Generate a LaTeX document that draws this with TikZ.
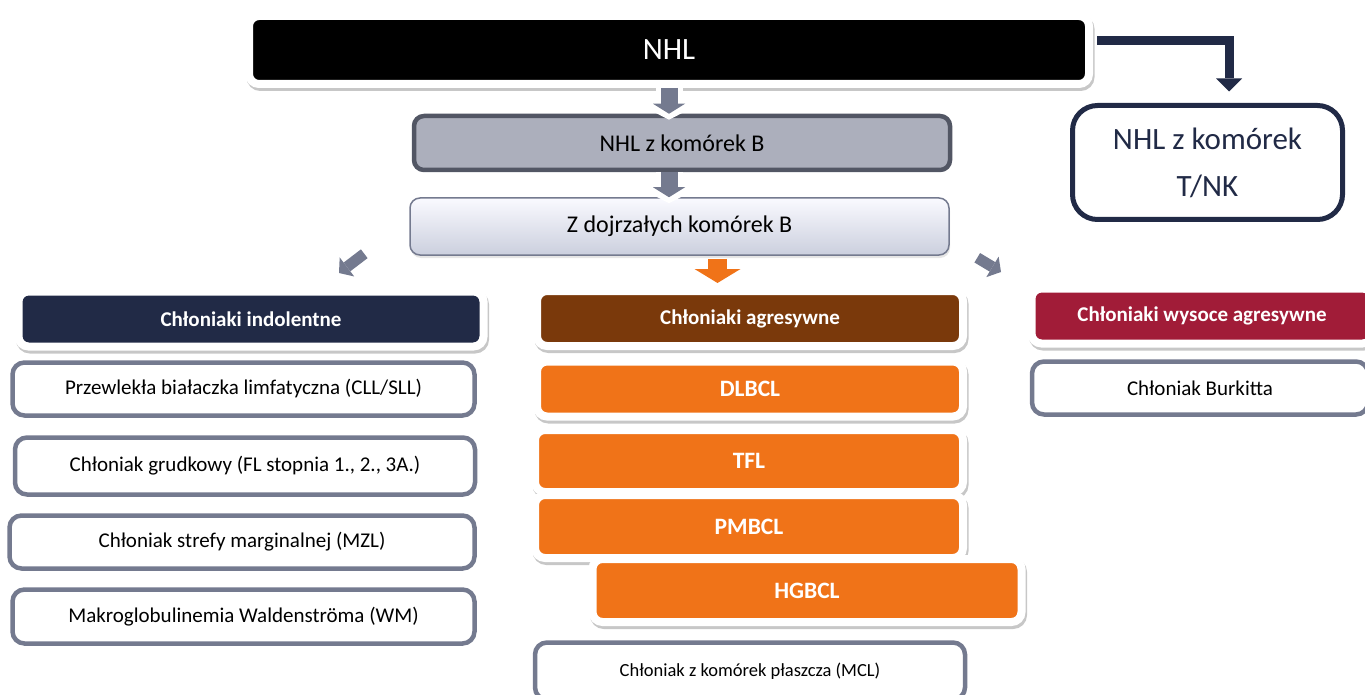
\documentclass[tikz,border=0pt]{standalone}
\usepackage{fontspec}
\setmainfont{Carlito}
\usetikzlibrary{shadows}
\usetikzlibrary{arrows.meta}
\usetikzlibrary{calc}

\definecolor{navy}{RGB}{33,42,70}
\definecolor{brownhd}{RGB}{122,57,11}
\definecolor{crimson}{RGB}{161,28,56}
\definecolor{orangebox}{RGB}{240,115,24}
\definecolor{slate}{RGB}{116,122,143}
\definecolor{graybox}{RGB}{172,175,188}
\definecolor{grayline}{RGB}{82,86,100}

\begin{document}
\begin{tikzpicture}[x=1pt,y=-1pt,
    every node/.style={inner sep=0pt,align=center},
    framed/.style={draw=white,line width=8pt,rounded corners=10pt,text=white,
        drop shadow={opacity=0.22,shadow xshift=1.5pt,shadow yshift=-3pt,
            draw=black,line width=8pt}},
    header/.style={framed,font=\fontsize{21}{25}\selectfont\bfseries},
    subtype/.style={framed,fill=orangebox,font=\fontsize{23.5}{28}\selectfont\bfseries},
    entity/.style={draw=slate,line width=4.5pt,fill=white,rounded corners=12pt,
        font=\fontsize{21}{25}\selectfont,
        drop shadow={opacity=0.15,shadow xshift=1pt,shadow yshift=-2pt}},
    blockarrow/.style={draw=slate,line width=17pt,
        -{Triangle[width=32pt,length=10pt,line width=0pt]},
        preaction={draw=white,line width=27pt,shorten >=-6pt,
            -{Triangle[width=70pt,length=18pt,line width=0pt]}}},
    smallarrow/.style={draw=slate,line width=11pt,
        -{Triangle[width=24pt,length=10pt,line width=0pt]},
        preaction={draw=white,line width=20pt,shorten >=-6pt,
            -{Triangle[width=46pt,length=17pt,line width=0pt]}}},
    hotarrow/.style={draw=orangebox,line width=19pt,
        -{Triangle[width=46pt,length=14pt,line width=0pt]}},
    elbowarrow/.style={draw=navy,line width=9pt,
        -{Triangle[width=26pt,length=13pt,line width=0pt]},
        preaction={draw=white,line width=17pt,shorten >=-9pt,
            -{Triangle[width=50pt,length=22pt,line width=0pt]}}}]
    \useasboundingbox (0,0) rectangle (1365,695);

    % Top of the tree
    \node[framed,fill=black,minimum width=840pt,minimum height=68pt,
        font=\fontsize{31}{37}\selectfont] (nhl) at (669,50) {NHL};
    \node[draw=grayline,fill=graybox,line width=4.5pt,rounded corners=10pt,
        minimum width=536pt,minimum height=54pt,font=\fontsize{24}{29}\selectfont,
        drop shadow={opacity=0.15,shadow xshift=1pt,shadow yshift=-2pt}]
        (nhlb) at (682,143) {NHL z komórek B};
    \node[draw=slate,line width=1.5pt,top color=black!3!blue!2!white,
        bottom color={rgb,255:red,203;green,207;blue,222},rounded corners=10pt,
        minimum width=539pt,minimum height=57pt,font=\fontsize{24}{29}\selectfont,
        drop shadow={opacity=0.2,shadow xshift=1pt,shadow yshift=-3pt}]
        (zdoj) at (679.5,226.5) {Z dojrzałych komórek B};
    \node[draw=navy,line width=5pt,fill=white,rounded corners=25pt,text=navy,
        minimum width=270pt,minimum height=114pt,font=\fontsize{31}{47}\selectfont]
        (tnk) at (1207.5,162.5) {NHL z komórek\\T/NK};

    % Headers
    \node[header,fill=navy,minimum width=465pt,minimum height=55pt]
        (indol) at (251,319) {Chłoniaki indolentne};
    \node[header,fill=brownhd,minimum width=426pt,minimum height=55pt]
        (agres) at (750,318.5) {Chłoniaki agresywne};
    \node[header,fill=crimson,minimum width=341pt,minimum height=55pt]
        (wysoce) at (1202,316) {Chłoniaki wysoce agresywne};

    % Indolent
    \node[entity,minimum width=462pt,minimum height=53pt] (cll) at (243.5,389)
        {Przewlekła białaczka limfatyczna (CLL/SLL)};
    \node[entity,minimum width=460pt,minimum height=57pt] (fl) at (245,466)
        {Chłoniak grudkowy (FL stopnia 1., 2., 3A.)};
    \node[entity,minimum width=465pt,minimum height=53pt] (mzl) at (242,542)
        {Chłoniak strefy marginalnej (MZL)};
    \node[entity,minimum width=462pt,minimum height=54pt] (wm) at (243.5,616.5)
        {Makroglobulinemia Waldenströma (WM)};

    % Aggressive
    \node[subtype,minimum width=426pt,minimum height=55pt] (dlbcl) at (750,389) {DLBCL};
    \node[subtype,minimum width=428pt,minimum height=62pt] (tfl) at (749,461) {TFL};
    \node[subtype,minimum width=428pt,minimum height=63pt] (pmbcl) at (749,526.5) {PMBCL};
    \node[subtype,minimum width=429pt,minimum height=63pt] (hgbcl) at (807,590.5) {HGBCL};
    \node[entity,minimum width=430pt,minimum height=57pt,font=\fontsize{18.5}{22}\selectfont]
        (mcl) at (750,671) {Chłoniak z komórek płaszcza (MCL)};

    % Highly aggressive
    \node[entity,minimum width=336pt,minimum height=53pt] (burkitt) at (1200,388)
        {Chłoniak Burkitta};

    % Arrows
    \draw[blockarrow] (nhl.south) -- (nhl.south |- nhlb.north);
    \draw[blockarrow] (nhl.south |- nhlb.south) -- (nhl.south |- zdoj.north);
    \draw[elbowarrow,shorten <=4pt] ([shift={(0,-9)}]nhl.east)
        -| ([shift={(21.5,-11.5)}]tnk.north);
    \draw[smallarrow] ([shift={(-45,-2)}]zdoj.south west)
        -- ([shift={(88,-14.5)}]indol.north);
    \draw[hotarrow] ([shift={(38,3)}]zdoj.south) -- ([shift={(-32.5,-4)}]agres.north);
    \draw[smallarrow] ([shift={(27.5,2)}]zdoj.south east)
        -- ([shift={(-26.5,-12.5)}]wysoce.north west);
\end{tikzpicture}
\end{document}
